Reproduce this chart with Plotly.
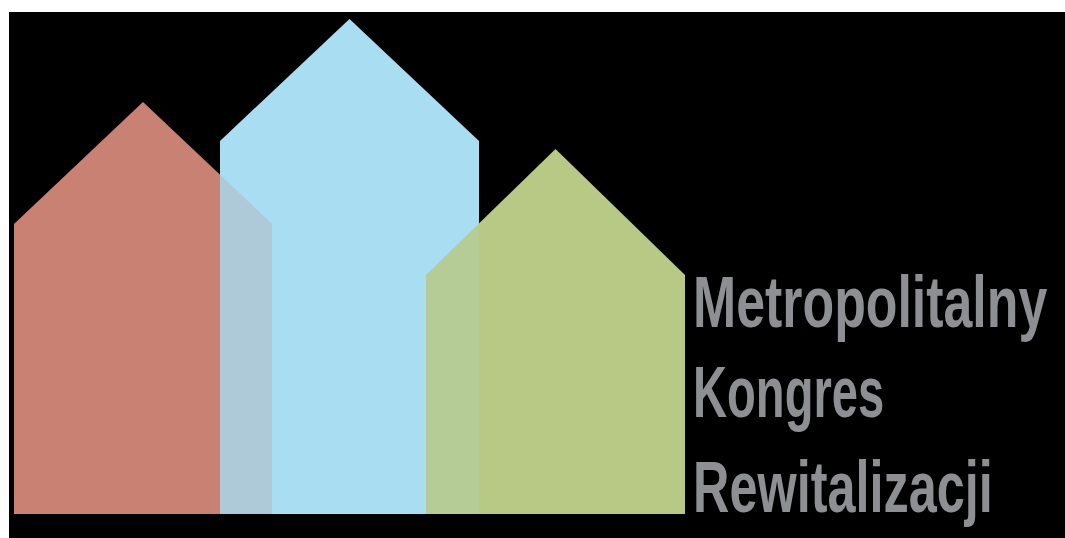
import plotly.graph_objects as go

# --- data ---
house_names = ["czerwony", "niebieski", "zielony"]
house_left = [14, 220, 426]
house_right = [272, 479, 685]
eave_y = [224, 141, 275]
ridge_y = [102, 19, 149]
base_y = [514, 514, 514]
house_colors = ["#c98174", "#a8ddf2", "#b8c986"]
overlay_alpha = [0.24, 0.15, 0.0]

text_lines = ["Metropolitalny", "Kongres", "Rewitalizacji"]
text_y = [302, 392, 487]
text_x = 691
text_color = "#8e8f93"
text_squeeze = [0.72, 0.655, 0.70]


def house(i):
    l, r = house_left[i], house_right[i]
    xs = [l, l, (l + r) / 2, r, r, l]
    ys = [base_y[i], eave_y[i], ridge_y[i], eave_y[i], base_y[i], base_y[i]]
    return xs, ys


fig = go.Figure()
order = []
for i in range(len(house_names)):
    order.append((i, 1.0))
    if i > 0 and overlay_alpha[i - 1] > 0:
        order.append((i - 1, overlay_alpha[i - 1]))

for i, a in order:
    xs, ys = house(i)
    fig.add_trace(go.Scatter(
        x=xs, y=ys, mode="lines", fill="toself",
        fillcolor=house_colors[i], line=dict(width=0, color=house_colors[i]),
        opacity=a, hoverinfo="skip", showlegend=False, name=house_names[i]))

for t, y in zip(text_lines, text_y):
    fig.add_annotation(
        x=text_x, y=y, xref="x", yref="y", text="<b>" + t + "</b>",
        showarrow=False, xanchor="left", yanchor="middle",
        font=dict(family="Liberation Sans, Arial, sans-serif",
                  size=72, color=text_color))

# white frame only on the left and top edges of the logo
fig.add_shape(type="rect", xref="paper", yref="paper", x0=-0.05, x1=0,
              y0=-0.1, y1=1.1, fillcolor="white", line=dict(width=0),
              layer="above")
fig.add_shape(type="rect", xref="paper", yref="paper", x0=-0.05, x1=1.1,
              y0=1, y1=1.1, fillcolor="white", line=dict(width=0),
              layer="above")

fig.update_layout(
    width=1065, height=538,
    margin=dict(l=9, r=0, t=12, b=0),
    paper_bgcolor="black", plot_bgcolor="black",
    xaxis=dict(range=[9, 1065], visible=False, fixedrange=True),
    yaxis=dict(range=[538, 12], visible=False, fixedrange=True),
)

squeeze_js = """
var de = document.documentElement, bd = document.body;
de.style.margin = '0'; de.style.overflow = 'hidden';
bd.style.margin = '0'; bd.style.overflow = 'hidden';
bd.style.background = 'black'; de.style.background = 'black';
var gd = document.getElementById('{plot_id}');
gd.style.position = 'fixed';
gd.style.left = '0px';
gd.style.top = '0px';
var sq = SQUEEZE;
gd.querySelectorAll('.annotation-text').forEach(function(t, i){
  t.style.transformBox = 'fill-box';
  t.style.transformOrigin = '0% 50%';
  t.style.transform = 'scaleX(' + sq[i % sq.length] + ')';
});
""".replace("SQUEEZE", str(text_squeeze))

fig.write_html("out.html", config={"displayModeBar": False},
               post_script=squeeze_js)
